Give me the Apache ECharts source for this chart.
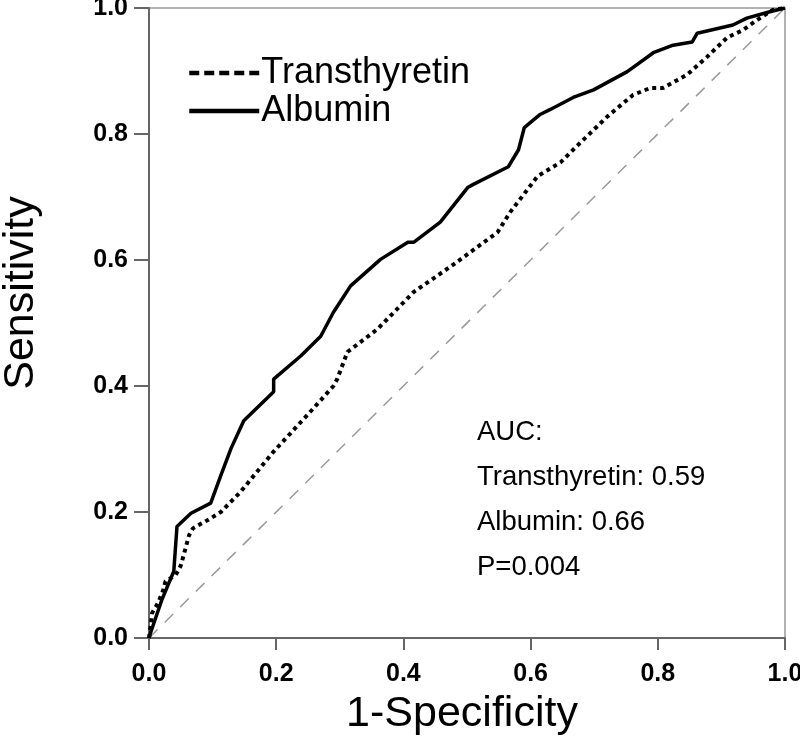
<!DOCTYPE html>
<html>
<head>
<meta charset="utf-8">
<script src="https://cdn.jsdelivr.net/npm/echarts@6/dist/echarts.min.js"></script>
<style>
html,body{margin:0;padding:0;background:#fff;}
#chart{width:800px;height:736px;}
</style>
</head>
<body>
<div id="chart"></div>
<script>
const xTicks = [0, 0.2, 0.4, 0.6, 0.8, 1.0];
const yTicks = [0, 0.2, 0.4, 0.6, 0.8, 1.0];
const seriesNames = ['Transthyretin', 'Albumin'];
const transthyretin = [
  [0,0],[0.005,0.04],[0.011,0.05],[0.016,0.06],[0.022,0.075],[0.026,0.09],[0.042,0.1],[0.05,0.115],
  [0.063,0.163],[0.069,0.174],[0.097,0.19],[0.113,0.2],[0.144,0.232],[0.196,0.296],[0.25,0.355],
  [0.29,0.40],[0.296,0.411],[0.312,0.454],[0.359,0.49],[0.416,0.549],[0.479,0.593],[0.548,0.644],
  [0.568,0.676],[0.611,0.733],[0.647,0.755],[0.678,0.786],[0.721,0.828],[0.761,0.862],[0.788,0.873],
  [0.808,0.873],[0.846,0.894],[0.877,0.922],[0.909,0.953],[0.934,0.965],[0.956,0.981],[0.981,0.997],[1,1]
];
const albumin = [
  [0,0],[0.003,0.01],[0.02,0.06],[0.039,0.106],[0.044,0.177],[0.066,0.198],[0.097,0.214],[0.113,0.258],
  [0.129,0.301],[0.149,0.345],[0.196,0.391],[0.196,0.411],[0.239,0.448],[0.27,0.479],[0.29,0.517],
  [0.317,0.559],[0.364,0.601],[0.407,0.628],[0.416,0.628],[0.458,0.66],[0.501,0.715],[0.51,0.72],
  [0.565,0.748],[0.581,0.775],[0.59,0.81],[0.615,0.831],[0.631,0.839],[0.667,0.858],[0.699,0.870],
  [0.752,0.899],[0.793,0.929],[0.824,0.941],[0.854,0.946],[0.862,0.96],[0.918,0.973],[0.94,0.984],
  [0.976,0.994],[1,1]
];
const reference = [[0,0],[1,1]];
const aucLines = ['AUC:', 'Transthyretin: 0.59', 'Albumin: 0.66', 'P=0.004'];

const chart = echarts.init(document.getElementById('chart'), null, {renderer:'canvas'});
const FONT = 'Liberation Sans, Arial, sans-serif';
const axisCommon = {
  type: 'value', min: 0, max: 1, interval: 0.2,
  nameLocation: 'middle',
  axisLine: {show: true, lineStyle: {color: '#666', width: 2}},
  splitLine: {show: false},
  axisLabel: {fontFamily: FONT, fontSize: 25, fontWeight: 'bold', color: '#000',
    formatter: v => v.toFixed(1)}
};
chart.setOption({
  animation: false,
  backgroundColor: '#fff',
  grid: {left: 149, right: 15, top: 8, bottom: 98, show: true, borderColor: '#999', borderWidth: 1.5,
    outerBoundsMode: 'none', containLabel: false},
  legend: {
    orient: 'vertical', left: 182, top: 50, itemWidth: 70, itemHeight: 14, itemGap: 2,
    data: [
      {name: seriesNames[0], lineStyle: {width: 4.5, type: [10, 5], color: '#000'}},
      {name: seriesNames[1], lineStyle: {width: 4.5, type: 'solid', color: '#000'}}
    ],
    itemStyle: {opacity: 0, borderWidth: 0},
    textStyle: {fontFamily: FONT, fontSize: 36, color: '#000', padding: [0, 0, 0, -3]}
  },
  xAxis: Object.assign({}, axisCommon, {name: '1-Specificity', nameGap: 55,
    nameTextStyle: {fontFamily: FONT, fontSize: 43, color: '#000', padding: [0, 10, 0, 0]},
    axisTick: {show: true, inside: false, length: 12, lineStyle: {color: '#666', width: 2}},
    axisLabel: Object.assign({}, axisCommon.axisLabel, {margin: 24})}),
  yAxis: Object.assign({}, axisCommon, {name: 'Sensitivity', nameGap: 106,
    nameTextStyle: {fontFamily: FONT, fontSize: 43, color: '#000', padding: [0, 0, 0, 60]},
    axisTick: {show: true, inside: false, length: 15, lineStyle: {color: '#666', width: 2}},
    axisLabel: Object.assign({}, axisCommon.axisLabel, {margin: 21})}),
  graphic: aucLines.map((t, i) => ({
    type: 'text', left: 477, top: 418 + i * 45.3,
    style: {text: t, font: '27.5px ' + FONT, fill: '#000'}
  })),
  series: [
    {type: 'line', name: '__ref', data: reference, symbol: 'none', silent: true,
      lineStyle: {color: '#999', width: 1.5, type: [12, 10]}},
    {type: 'line', name: seriesNames[0], data: transthyretin, symbol: 'none',
      lineStyle: {color: '#000', width: 4, type: [4, 4]}, itemStyle: {color: '#000'}},
    {type: 'line', name: seriesNames[1], data: albumin, symbol: 'none',
      lineStyle: {color: '#000', width: 3.5, type: 'solid'}, itemStyle: {color: '#000'}}
  ]
});
</script>
</body>
</html>
